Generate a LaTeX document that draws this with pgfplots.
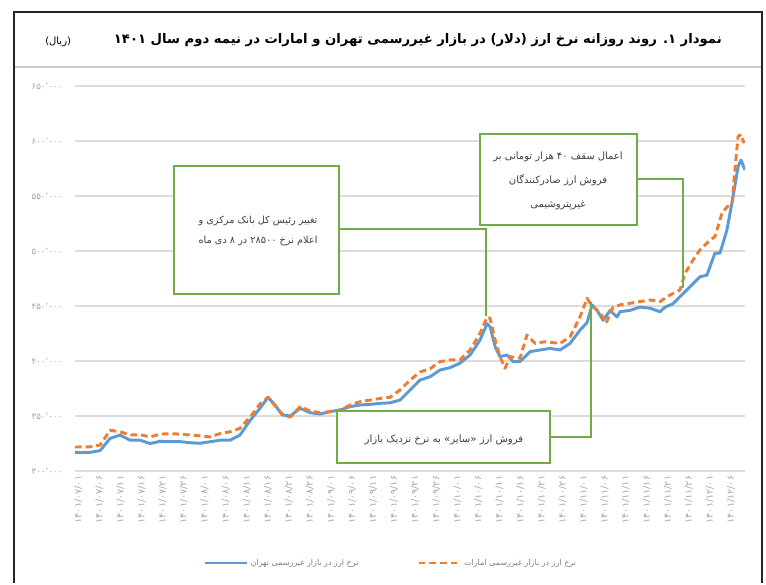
\documentclass[border=0pt]{standalone}
\usepackage{pgfplots}
\pgfplotsset{compat=1.18}
\usepackage{pgfplotstable}
\usepackage{fontspec}
\setmainfont{DejaVu Sans}
\newfontfamily\arabicfont[Script=Arabic]{DejaVu Sans}
\TeXXeTstate=1
\definecolor{tblue}{HTML}{5B9BD5}
\definecolor{torange}{HTML}{ED7D31}
\definecolor{tgreen}{HTML}{70AD47}
\definecolor{tgrid}{HTML}{DCDCDC}
\definecolor{ttext}{HTML}{404040}

\pgfplotstableread{
x y
-0.16 317000
0.08 316600
0.56 317000
1.03 318500
1.51 329700
1.98 332700
2.46 328000
2.93 328000
3.41 325000
3.88 327000
4.36 326700
4.83 326700
5.31 325700
5.78 325200
6.26 326600
6.73 328000
7.21 328000
7.68 332700
8.16 346000
8.63 357000
9.01 367000
9.34 360000
9.68 351000
10.06 350000
10.54 357000
11.01 353000
11.49 351800
11.96 354000
12.44 355500
12.91 358500
13.38 360000
13.86 360600
14.33 361500
14.81 362000
15.28 364500
15.76 373600
16.23 382700
16.71 385700
17.18 391800
17.66 394000
18.13 398000
18.61 405500
19.08 419000
19.42 434000
19.56 431000
19.80 413000
20.03 404000
20.37 405500
20.65 399400
20.98 399400
21.46 408500
21.93 410000
22.41 411500
22.88 410000
23.36 416000
23.83 428000
24.17 435000
24.40 451000
24.64 446000
24.93 437000
25.26 446000
25.59 440000
25.73 444800
26.21 446000
26.68 449000
27.16 448000
27.63 444800
27.87 449000
28.25 452000
28.58 458500
29.06 467500
29.53 476600
29.86 478000
30.24 498000
30.48 498000
30.81 519000
31.10 549000
31.34 576600
31.48 582700
31.67 573600
}\tehran

\pgfplotstableread{
x y
-0.16 321800
0.56 322000
1.03 323600
1.51 337000
1.98 335700
2.46 332700
2.93 333000
3.41 331000
3.88 333500
4.36 334000
4.83 333500
5.31 332700
5.78 332000
6.26 331000
6.73 334000
7.21 335700
7.68 338800
8.16 349000
8.63 361000
9.01 367000
9.68 351800
10.06 349000
10.54 358500
11.01 354500
11.49 353000
11.96 354000
12.44 355500
12.91 360000
13.38 363000
13.86 364500
14.33 366000
14.81 367000
15.28 373600
15.76 382700
16.23 390000
16.71 393000
17.18 399400
17.66 401000
18.13 401000
18.61 410000
19.08 425000
19.42 440000
19.56 438800
19.80 419000
20.03 404000
20.27 393400
20.51 404000
20.98 402500
21.31 423600
21.70 416000
22.17 417500
22.88 416000
23.36 422000
23.83 440000
24.17 457000
24.36 451000
24.79 443600
25.07 434500
25.40 449000
25.73 451000
26.68 454000
27.16 455500
27.63 454000
28.11 460000
28.58 464500
28.82 479700
29.20 491800
29.53 501000
30.01 510000
30.24 513000
30.57 534000
30.81 540000
31.05 543000
31.19 573600
31.34 604000
31.48 606000
31.62 598000
}\emarat

\begin{document}
\begin{tikzpicture}
\begin{scope}[x=0.75pt,y=-0.75pt]
\path[use as bounding box] (0,0) rectangle (766,583);
\fill[white] (0,0) rectangle (766,583);
\end{scope}
\begin{axis}[
  at={(56.25pt,-353.25pt)}, anchor=south west,
  scale only axis, width=502.5pt, height=288.75pt,
  xmin=-0.16, xmax=31.67, ymin=300000, ymax=650000,
  axis line style={draw=none},
  major tick length=0pt,
  scaled y ticks=false,
  ymajorgrids, major grid style={tgrid, line width=0.8pt},
  ytick={300000,350000,400000,450000,500000,550000,600000,650000},
  yticklabels={۳۰۰٬۰۰۰,۳۵۰٬۰۰۰,۴۰۰٬۰۰۰,۴۵۰٬۰۰۰,۵۰۰٬۰۰۰,۵۵۰٬۰۰۰,۶۰۰٬۰۰۰,۶۵۰٬۰۰۰},
  yticklabel style={font=\arabicfont\fontsize{6.5}{7}\selectfont, text=gray!70, xshift=-6pt},
  xtick={0,...,31},
  xticklabels={۱۴۰۱/۰۷/۰۱,۱۴۰۱/۰۷/۰۶,۱۴۰۱/۰۷/۱۱,۱۴۰۱/۰۷/۱۶,۱۴۰۱/۰۷/۲۱,۱۴۰۱/۰۷/۲۶,۱۴۰۱/۰۸/۰۱,۱۴۰۱/۰۸/۰۶,۱۴۰۱/۰۸/۱۱,۱۴۰۱/۰۸/۱۶,۱۴۰۱/۰۸/۲۱,۱۴۰۱/۰۸/۲۶,۱۴۰۱/۰۹/۰۱,۱۴۰۱/۰۹/۰۶,۱۴۰۱/۰۹/۱۱,۱۴۰۱/۰۹/۱۶,۱۴۰۱/۰۹/۲۱,۱۴۰۱/۰۹/۲۶,۱۴۰۱/۱۰/۰۱,۱۴۰۱/۱۰/۰۶,۱۴۰۱/۱۰/۱۱,۱۴۰۱/۱۰/۱۶,۱۴۰۱/۱۰/۲۱,۱۴۰۱/۱۰/۲۶,۱۴۰۱/۱۱/۰۱,۱۴۰۱/۱۱/۰۶,۱۴۰۱/۱۱/۱۱,۱۴۰۱/۱۱/۱۶,۱۴۰۱/۱۱/۲۱,۱۴۰۱/۱۱/۲۶,۱۴۰۱/۱۲/۰۱,۱۴۰۱/۱۲/۰۶},
  xticklabel style={rotate=90, anchor=east, font=\arabicfont\fontsize{7.2}{8}\selectfont, text=gray!70},
  legend style={at={(0.472,-0.239)}, anchor=center, draw=none, fill=none,
    font=\arabicfont\fontsize{6}{8}\selectfont, text=gray,
    /tikz/every even column/.append style={column sep=42pt}},
  legend columns=2,
  legend image code/.code={\draw[#1] (0pt,0pt) -- (31pt,0pt);},
]
\addplot[tblue, line width=2.2pt, line join=round] table[x=x,y=y] {\tehran};
\addlegendentry{\beginR نرخ ارز در بازار غیررسمی تهران\endR}
\addplot[torange, line width=2.2pt, dash pattern=on 5pt off 3pt, line join=round] table[x=x,y=y] {\emarat};
\addlegendentry{\beginR نرخ ارز در بازار غیررسمی امارات\endR}
\end{axis}
\begin{scope}[x=0.75pt,y=-0.75pt]
% frame
\draw[line width=2.2pt, black!85] (14,583) -- (14,12) -- (762,12) -- (762,583);
\draw[gray!40, line width=0.8pt] (15,67) -- (761,67);
% title
\node[anchor=east, inner sep=0pt, font=\arabicfont\bfseries\fontsize{9.9}{12}\selectfont] at (722,40)
  {\beginR نمودار ۱\kern0pt. روند روزانه نرخ ارز (دلار) در بازار غیررسمی تهران و امارات در نیمه دوم سال ۱۴۰۱\endR};
\node[anchor=west, inner sep=0pt, font=\arabicfont\fontsize{7.5}{9}\selectfont] at (45,42) {\beginR(ریال)\endR};
% annotation connectors
\draw[tgreen, line width=1.5pt] (339,229) -- (486,229) -- (486,316);
\draw[tgreen, line width=1.5pt] (637,179) -- (683,179) -- (683,288);
\draw[tgreen, line width=1.5pt] (550,437) -- (591,437) -- (591,302);
% boxes
\draw[tgreen, line width=1.5pt, fill=white] (174,166) rectangle (339,294);
\node[align=center, text=ttext, font=\arabicfont\fontsize{7.3}{15}\selectfont] at (258,231)
  {\beginR تغییر رئیس کل بانک مرکزی و\endR\\\beginR اعلام نرخ ۲۸۵۰۰ در ۸ دی ماه\endR};
\draw[tgreen, line width=1.5pt, fill=white] (480,134) rectangle (637,225);
\node[align=center, text=ttext, font=\arabicfont\fontsize{7.5}{18}\selectfont] at (558,181)
  {\beginR اعمال سقف ۴۰ هزار تومانی بر\endR\\\beginR فروش ارز صادرکنندگان\endR\\\beginR غیرپتروشیمی\endR};
\draw[tgreen, line width=1.5pt, fill=white] (337,411) rectangle (550,463);
\node[text=ttext, font=\arabicfont\fontsize{7.6}{9}\selectfont] at (444,440)
  {\beginR فروش ارز «سایر» به نرخ نزدیک بازار\endR};
\end{scope}
\end{tikzpicture}
\end{document}
